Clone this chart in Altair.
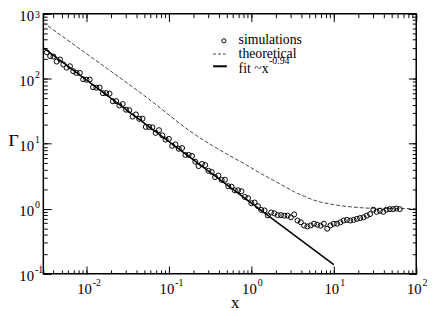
import altair as alt
import pandas as pd

# ---------------- data ----------------
SIM_X = [0.003311, 0.003631, 0.003981, 0.004365, 0.004786, 0.005248, 0.005754, 0.00631, 0.006918, 0.007586, 0.008318, 0.00912,
         0.01, 0.01096, 0.01202, 0.01318, 0.01445, 0.01585, 0.01738, 0.01905, 0.02089, 0.02291, 0.02512, 0.02754, 0.0302,
         0.03311, 0.03631, 0.03981, 0.04365, 0.04786, 0.05248, 0.05754, 0.0631, 0.06918, 0.07586, 0.08318, 0.0912,
         0.1, 0.1096, 0.1202, 0.1318, 0.1445, 0.1585, 0.1738, 0.1905, 0.2089, 0.2291, 0.2512, 0.2754, 0.302,
         0.3311, 0.3631, 0.3981, 0.4365, 0.4786, 0.5248, 0.5754, 0.631, 0.6918, 0.7586, 0.8318, 0.912,
         1.0, 1.096, 1.202, 1.318, 1.445, 1.585, 1.738, 1.905, 2.089, 2.291, 2.512, 2.754, 3.02,
         3.311, 3.631, 3.981, 4.365, 4.786, 5.248, 5.754, 6.31, 6.918, 7.586, 8.318, 9.12,
         10.0, 10.96, 12.02, 13.18, 14.45, 15.85, 17.38, 19.05, 20.89, 22.91, 25.12, 27.54, 30.2,
         33.11, 36.31, 39.81, 43.65, 47.86, 52.48, 57.54, 63.1]
SIM_Y = [255, 223, 220, 184, 198, 166, 148, 156, 131, 123,
         123, 98.4, 96.8, 97.3, 74.3, 72.9, 73.3, 60.0, 60.3, 59.3,
         45.2, 45.4, 38.9, 40.9, 33.5, 32.9, 26.2, 28.3, 24.2, 24.4,
         18.2, 18.2, 17.9, 14.7, 16.2, 13.5, 11.6, 11.9, 9.29, 9.79,
         8.38, 8.61, 6.73, 6.76, 6.50, 5.31, 4.54, 4.90, 4.70, 3.85,
         3.69, 3.08, 3.25, 2.78, 2.80, 2.23, 2.19, 1.92, 1.93, 1.86,
         1.52, 1.46, 1.22, 1.25, 1.10, 0.962, 0.944, 0.791,
         0.88, 0.85, 0.80, 0.80, 0.785, 0.785, 0.74, 0.82, 0.66, 0.62,
         0.555, 0.536, 0.555, 0.59, 0.57, 0.55, 0.59, 0.494, 0.555, 0.59,
         0.59, 0.62, 0.66, 0.676, 0.66, 0.676, 0.70, 0.72, 0.74, 0.785,
         0.83, 0.97, 0.90, 0.935, 0.90, 0.97, 0.99, 0.99, 1.01, 0.99]

THEO_X = [0.003, 0.0055, 0.0547, 0.2153, 0.3724, 0.532, 0.848, 1.351, 1.93, 2.538, 3.34,
          4.392, 5.777, 10, 17.3, 29.95, 100]
THEO_Y = [731, 420, 50.8, 13.43, 8.70, 6.70, 4.82, 3.40, 2.67, 2.20, 1.82,
          1.557, 1.356, 1.159, 1.063, 1.019, 1.005]

FIT_X = [0.003, 10]
FIT_Y = [300, 0.138]

X_MAJOR = [0.01, 0.1, 1, 10, 100]
X_EXP = ["-2", "-1", "0", "1", "2"]
X_ALL = [0.003, 0.004, 0.005, 0.006, 0.007, 0.008, 0.009,
         0.01, 0.02, 0.03, 0.04, 0.05, 0.06, 0.07, 0.08, 0.09,
         0.1, 0.2, 0.3, 0.4, 0.5, 0.6, 0.7, 0.8, 0.9,
         1, 2, 3, 4, 5, 6, 7, 8, 9,
         10, 20, 30, 40, 50, 60, 70, 80, 90, 100]
Y_MAJOR = [0.1, 1, 10, 100, 1000]
Y_EXP = ["-1", "0", "1", "2", "3"]
Y_ALL = [0.1, 0.2, 0.3, 0.4, 0.5, 0.6, 0.7, 0.8, 0.9,
         1, 2, 3, 4, 5, 6, 7, 8, 9,
         10, 20, 30, 40, 50, 60, 70, 80, 90,
         100, 200, 300, 400, 500, 600, 700, 800, 900, 1000]

LEGEND = ["simulations", "theoretical", "fit ~x"]
FIT_EXP = "-0.94"
X_TITLE = "x"
Y_TITLE = "Γ"

# ---------------- chart ----------------
W, H = 380, 265
FONT = "Liberation Serif, DejaVu Serif, Times New Roman, serif"

sim = pd.DataFrame({"x": SIM_X, "y": SIM_Y})
theo = pd.DataFrame({"x": THEO_X, "y": THEO_Y})
fit = pd.DataFrame({"x": FIT_X, "y": FIT_Y})

xs = alt.Scale(type="log", domain=[0.003, 100], nice=False)
ys = alt.Scale(type="log", domain=[0.1, 1000], nice=False)


def exp_expr(vals, exps):
    arr = "[" + ",".join("'%s'" % e for e in exps) + "]"
    v = "[" + ",".join(repr(x) for x in vals) + "]"
    return "%s[indexof(%s, datum.value)]" % (arr, v)


def tick_axis(orient, offset, values, size):
    return alt.Axis(orient=orient, offset=offset, values=values, tickSize=size,
                    labels=False, domain=False, grid=False, title=None,
                    tickColor="black", tickWidth=1)


common_lab = dict(ticks=False, domain=False, grid=False, labelFont=FONT,
                  labelColor="black", labelFlush=False, labelOverlap=False)

x_base = alt.Axis(orient="bottom", values=X_MAJOR, labelExpr="'10'", labelFontSize=15,
                  labelAlign="right", labelBaseline="alphabetic", labelOffset=5, labelPadding=20,
                  title=X_TITLE, titleFont=FONT, titleFontSize=17, titleFontWeight="normal",
                  titleColor="black", titleX=195, titleY=34, titleAlign="center",
                  titleBaseline="alphabetic", **common_lab)
x_exp = alt.Axis(orient="bottom", values=X_MAJOR, labelExpr=exp_expr(X_MAJOR, X_EXP),
                 labelFontSize=10, labelAlign="left", labelBaseline="alphabetic", labelOffset=6,
                 labelPadding=12, title=None, **common_lab)
y_base = alt.Axis(orient="left", values=Y_MAJOR, labelExpr="'10'", labelFontSize=15,
                  labelAlign="right", labelBaseline="middle", labelOffset=2, labelPadding=10,
                  title=Y_TITLE, titleFont=FONT, titleFontSize=18, titleFontWeight="normal",
                  titleColor="black", titleAngle=0, titleX=-36, titleY=129, titleAlign="left",
                  titleBaseline="middle", **common_lab)
y_exp = alt.Axis(orient="left", values=Y_MAJOR, labelExpr=exp_expr(Y_MAJOR, Y_EXP),
                 labelFontSize=10, labelAlign="left",
                 labelBaseline={"condition": {"test": "datum.value >= 1000", "value": "top"},
                                "value": "middle"},
                 labelOffset=-4, labelPadding=9, title=None, **common_lab)

theo_layer = alt.Chart(theo).mark_line(color="#444", strokeWidth=1, strokeDash=[4, 2],
                                       interpolate="monotone", clip=True).encode(
    x=alt.X("x:Q", scale=xs, axis=x_base), y=alt.Y("y:Q", scale=ys, axis=y_base))
fit_layer = alt.Chart(fit).mark_line(color="black", strokeWidth=1.6, clip=True).encode(
    x=alt.X("x:Q", scale=xs, axis=x_exp), y=alt.Y("y:Q", scale=ys, axis=y_exp))
sim_layer = alt.Chart(sim).mark_point(shape="circle", filled=False, size=26, color="black",
                                      strokeWidth=1, opacity=1, clip=True).encode(
    x=alt.X("x:Q", scale=xs, axis=tick_axis("top", -H, X_ALL, 4)),
    y=alt.Y("y:Q", scale=ys, axis=tick_axis("right", -W, Y_ALL, 4)))
inv1 = alt.Chart(fit).mark_point(opacity=0).encode(
    x=alt.X("x:Q", scale=xs, axis=tick_axis("top", -H, X_MAJOR, 8)),
    y=alt.Y("y:Q", scale=ys, axis=tick_axis("right", -W, Y_MAJOR, 8)))
inv2 = alt.Chart(fit).mark_point(opacity=0).encode(
    x=alt.X("x:Q", scale=xs, axis=tick_axis("bottom", -H, X_ALL, 4)),
    y=alt.Y("y:Q", scale=ys, axis=tick_axis("left", -W, Y_ALL, 4)))
inv3 = alt.Chart(fit).mark_point(opacity=0).encode(
    x=alt.X("x:Q", scale=xs, axis=tick_axis("bottom", -H, X_MAJOR, 8)),
    y=alt.Y("y:Q", scale=ys, axis=tick_axis("left", -W, Y_MAJOR, 8)))

one = pd.DataFrame({"t": LEGEND})


def leg_text(i, x, y, size=14):
    return alt.Chart(one.iloc[[i]]).mark_text(font=FONT, fontSize=size, align="left",
                                               baseline="middle", color="black").encode(
        x=alt.value(x), y=alt.value(y), text="t:N")


leg_circle = alt.Chart(one.iloc[[0]]).mark_point(shape="circle", filled=False, size=18,
                                                  color="black", strokeWidth=1, opacity=1).encode(
    x=alt.value(184), y=alt.value(27.5))
leg_dash = alt.Chart(one.iloc[[1]]).mark_rule(color="#444", strokeWidth=1, strokeDash=[3, 2]).encode(
    x=alt.value(173), x2=alt.value(187), y=alt.value(41))
leg_solid = alt.Chart(one.iloc[[2]]).mark_rule(color="black", strokeWidth=2).encode(
    x=alt.value(173), x2=alt.value(187), y=alt.value(53.5))
leg_exp = alt.Chart(pd.DataFrame({"t": [FIT_EXP]})).mark_text(
    font=FONT, fontSize=10, align="left", baseline="middle", color="black").encode(
    x=alt.value(230), y=alt.value(48.5), text="t:N")

chart = alt.layer(
    theo_layer, fit_layer, sim_layer, inv1, inv2, inv3,
    leg_circle, leg_dash, leg_solid,
    leg_text(0, 199, 27), leg_text(1, 199, 41), leg_text(2, 199, 56), leg_exp,
).resolve_axis(x="independent", y="independent").properties(
    width=W, height=H,
    autosize=alt.AutoSizeParams(type="none"),
    padding={"left": 36, "top": 3, "right": 12, "bottom": 36},
    background="white",
).configure_view(stroke="black", strokeWidth=1.5)

chart.save("out.html", embed_options={"renderer": "svg", "actions": False})
